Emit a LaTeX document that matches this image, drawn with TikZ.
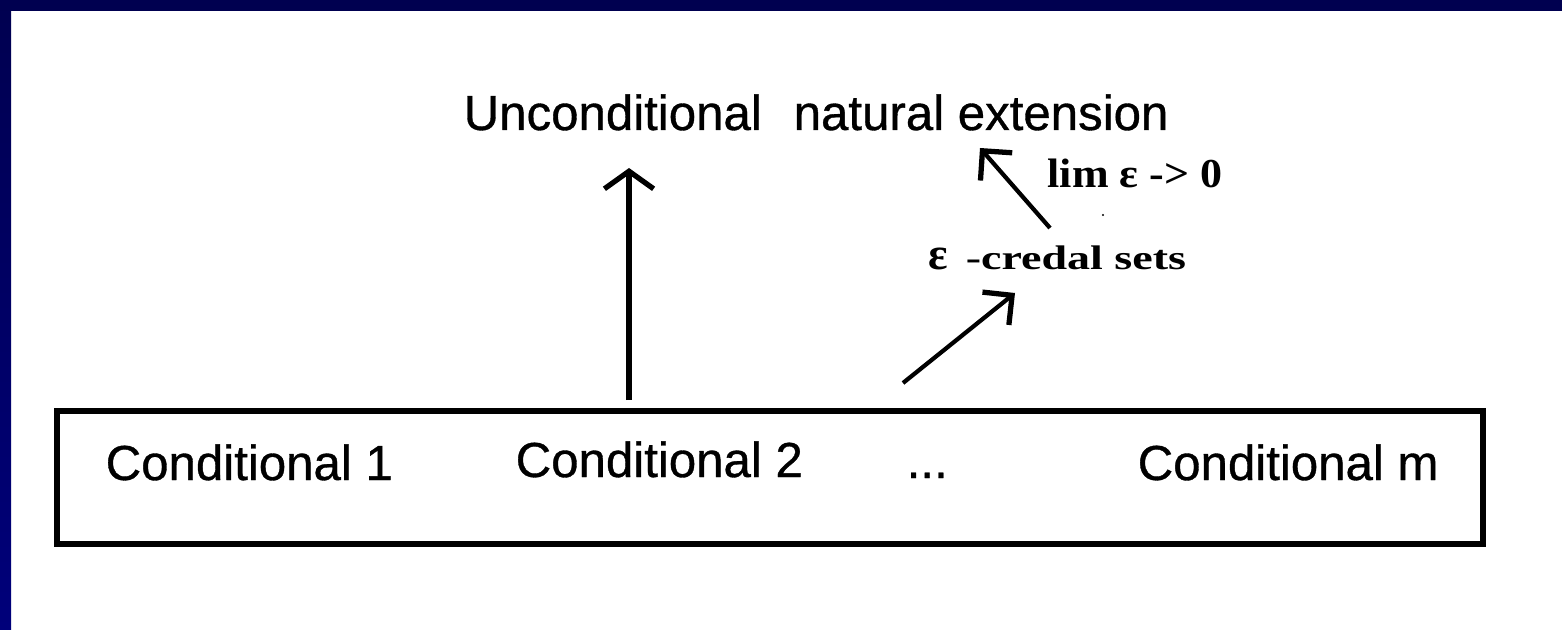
\documentclass[tikz,border=0pt]{standalone}
\usepackage{fontspec}
\setmainfont{Liberation Serif}
\setsansfont{Liberation Sans}
\newfontfamily\slidesans{Liberation Sans}[UprightFeatures={FakeBold=0.7}]
\usetikzlibrary{arrows.meta}

\definecolor{slidenavy}{RGB}{0,0,80}
\definecolor{slideblue}{RGB}{0,0,122}

\begin{document}
\begin{tikzpicture}[
    sanstext/.style={font=\slidesans\fontsize{14pt}{16pt}\selectfont, inner sep=0pt, anchor=base west},
    serifbig/.style={font=\bfseries\fontsize{11.7pt}{14pt}\selectfont, inner sep=0pt, anchor=base west},
    serifsmall/.style={font=\bfseries\fontsize{9.7pt}{12pt}\selectfont, inner sep=0pt, anchor=base west},
    condframe/.style={draw, line width=1.7pt, minimum width=14.26cm, minimum height=1.33cm, inner sep=0pt},
    arr/.style={-{Straight Barb[length=6pt, width=12pt, line width=1.5pt]}, line width=1.2pt},
    uparr/.style={-{Straight Barb[length=5pt, width=14pt, line width=1.5pt]}, line width=1.7pt}
]
    % --- slide background and border bands ---
    \fill[white] (0,0) rectangle (15.62,6.29);
    \useasboundingbox (0,0) rectangle (15.62,6.29);
    \shade[top color=slidenavy, bottom color=slideblue] (0,0) rectangle (0.11,6.29);
    \fill[slidenavy] (0,6.18) rectangle (15.62,6.29);

    % --- conditionals ---
    \node[condframe] (condbox) at (7.70, 1.515) {};
    \node[sanstext] (cond1) at (1.05, 1.49) {Conditional 1};
    \node[sanstext] (cond2) at (5.15, 1.52) {Conditional 2};
    \node[sanstext] (dots) at (9.06, 1.51) {...};
    \node[sanstext] (condm) at (11.37, 1.49) {Conditional m};

    % --- top: unconditional natural extension ---
    \node[sanstext] (uncond) at (4.63, 4.99) {Unconditional};
    \node[sanstext] (natext) at (7.93, 4.99) {natural extension};

    % --- epsilon route ---
    \node[serifsmall] (credal) at (9.28, 3.59)
        {{\fontsize{13pt}{15pt}\selectfont ε}\hspace{5pt}\scalebox{1.35}[1]{-credal sets}};
    \node[serifbig] (limtext) at (10.47, 4.41) {\scalebox{1.07}[1]{lim ε -> 0}};
    \fill (11.03, 4.14) circle (0.012);

    % arrow ends
    \coordinate (up_tail) at (6.29, 2.29);
    \coordinate (up_tip) at (6.29, 4.61);
    \coordinate (eps_tail) at (9.03, 2.46);
    \coordinate (eps_tip) at (10.15, 3.36);
    \coordinate (lim_tail) at (10.50, 4.01);
    \coordinate (lim_tip) at (9.80, 4.81);

    \draw[uparr] (up_tail) -- (up_tip);
    \draw[arr] (eps_tail) -- (eps_tip);
    \draw[arr] (lim_tail) -- (lim_tip);

\end{tikzpicture}
\end{document}
